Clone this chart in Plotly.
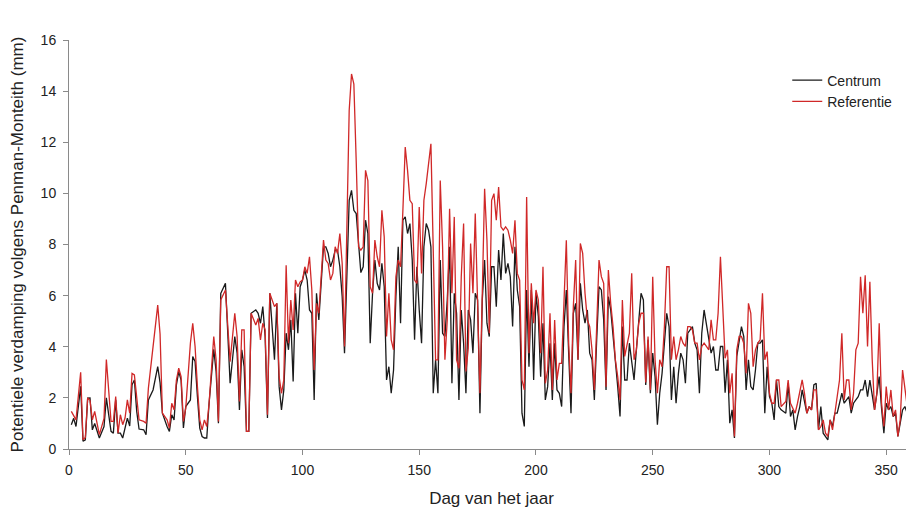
import plotly.graph_objects as go

# Day of year (days)
days = [1, 2, 3, 5, 6, 7, 8, 9, 10, 11, 13, 15, 16, 18, 19, 20, 21, 22, 23, 24, 25, 26, 27, 28, 29, 30,
        32, 33, 34, 36, 38, 39, 40, 42, 43, 44, 45, 46, 47, 48, 49, 50, 52, 53, 54, 55, 56, 57, 58, 59, 60,
        62, 63, 64, 65, 67, 68, 69, 71, 72, 73, 74, 75, 76, 77, 78, 80, 81, 82, 83, 84, 85, 86, 88, 89, 90,
        91, 92, 93, 94, 95, 96, 97, 98, 99, 100, 101, 102, 103, 104, 105, 106, 107, 108, 109, 110,
        111, 112, 113, 114, 115, 116, 117, 118, 119, 120, 121, 122, 123, 124, 125, 126, 127, 128, 129, 130,
        131, 132, 133, 134, 135, 136, 137, 138, 139, 140, 141, 142, 143, 144, 145, 146, 147, 148, 149, 150,
        151, 152, 153, 154, 155, 156, 157, 158, 159, 160, 161, 162, 163, 164, 165, 166, 167, 168, 169, 170,
        171, 172, 173, 174, 175, 176, 177, 178, 179, 180, 181, 182, 183, 184, 185, 186, 187, 188, 189, 190,
        191, 192, 193, 194, 195, 196, 197, 198, 199, 200, 201, 202, 203, 204, 205, 206, 207, 208, 209, 210,
        211, 212, 213, 214, 215, 216, 217, 218, 219, 220, 221, 222, 223, 224, 225, 226, 227, 228, 229, 230,
        231, 232, 233, 234, 235, 236, 237, 238, 239, 240, 241, 242, 243, 244, 245, 246, 247, 248, 249, 250,
        251, 252, 253, 254, 255, 256, 257, 258, 259, 260, 261, 262, 263, 264, 265, 266, 267, 268, 269, 270,
        271, 272, 273, 274, 275, 276, 277, 278, 279, 280, 281, 282, 283, 284, 285, 286, 287, 288, 289, 290,
        291, 292, 293, 294, 295, 296, 297, 298, 299, 300, 301, 302, 303, 304, 305, 307, 308, 309, 310,
        311, 312, 313, 314, 315, 316, 317, 318, 319, 320, 321, 322, 323, 324, 325, 326, 327, 328, 329, 330,
        331, 332, 333, 334, 335, 336, 337, 338, 339, 340, 341, 342, 343, 344, 345, 346, 347, 348, 349, 350,
        351, 352, 353, 354, 355, 356, 357, 358, 359, 360, 361, 362]

referentie = [1.47, 1.27, 1.14, 3.0, 0.36, 0.45, 2.0, 1.9, 1.14, 1.47, 0.56, 1.2, 3.5, 1.08, 1.08, 2.05, 0.62, 1.34, 0.95, 1.21, 1.92, 1.4, 2.96, 2.9, 2.12, 1.14,
              1.08, 1.01, 2.38, 4.01, 5.63, 4.5, 1.4, 1.14, 0.82, 1.79, 1.53, 2.70, 3.16, 2.83, 1.08, 1.6, 4.14, 4.92, 4.01, 2.44, 1.14, 0.75, 1.14, 0.88, 1.79,
              4.40, 3.49, 1.08, 5.83, 6.22, 4.66, 3.42, 5.31, 4.40, 1.86, 4.66, 4.66, 0.69, 0.69, 5.31, 4.85, 5.11, 4.27, 4.92, 4.66, 1.34, 6.09, 5.57, 5.70, 2.83,
              2.18, 2.70, 7.19, 4.14, 5.83, 4.66, 6.61, 6.35, 6.54, 6.61, 7.13, 6.87, 7.52, 6.22, 3.09, 5.70, 5.31, 6.61, 8.17, 7.39,
              7.26, 6.61, 6.87, 7.91, 7.65, 8.43, 7.26, 4.01, 8.4, 13.24, 14.67, 14.28, 11.29, 7.91, 7.78, 7.91, 10.9, 10.5, 6.35, 6.09,
              8.17, 7.52, 7.13, 9.34, 8.30, 4.40, 6.09, 4.27, 3.88, 6.74, 7.39, 7.13, 9.34, 11.81, 10.9, 9.73, 9.6, 6.61, 6.48, 9.47,
              6.87, 9.73, 10.38, 11.16, 11.94, 7.78, 3.49, 3.49, 10.5, 7.9, 3.49, 5.05, 9.40, 6.09, 9.08, 3.49, 3.16, 6.74, 8.82, 3.03,
              3.94, 8.04, 6.09, 9.21, 6.09, 2.18, 6.09, 10.18, 8.17, 4.53, 9.73, 9.99, 8.95, 10.25, 8.69, 8.56, 8.69, 8.56, 8.17, 7.65,
              8.95, 6.87, 6.61, 2.70, 2.31, 9.86, 3.75, 6.48, 4.92, 6.22, 5.83, 3.75, 7.13, 2.57, 3.09, 5.31, 2.31, 5.05, 2.70, 3.35,
              3.35, 5.57, 8.17, 4.14, 2.18, 5.57, 7.39, 3.49, 8.04, 7.65, 6.09, 5.05, 4.79, 3.88, 2.31, 4.79, 7.39, 6.74, 6.48, 2.44,
              7.0, 5.70, 4.79, 3.49, 2.83, 1.92, 5.83, 3.62, 4.01, 4.53, 6.87, 3.49, 3.88, 4.92, 5.31, 5.31, 2.6, 4.40, 2.31, 6.74,
              3.49, 2.18, 3.49, 3.22, 4.79, 7.13, 7.13, 3.49, 4.40, 3.49, 3.88, 4.40, 4.14, 4.01, 4.79, 4.79, 4.66, 4.14, 4.14, 3.49,
              4.01, 4.14, 4.01, 3.88, 5.05, 4.27, 4.27, 5.31, 7.52, 5.18, 3.55, 3.88, 2.18, 2.96, 0.49, 3.88, 4.40, 4.40, 4.14, 2.96,
              5.70, 5.31, 3.22, 3.88, 4.14, 4.27, 6.09, 3.49, 3.81, 2.18, 1.79, 1.79, 2.70, 2.70, 1.66, 1.86, 2.70, 1.79, 1.60,
              1.40, 1.79, 2.18, 2.70, 2.18, 1.40, 1.66, 1.53, 2.31, 2.31, 0.75, 0.88, 1.14, 0.62, 0.49, 1.14, 0.75, 1.40, 2.05, 2.70,
              4.53, 1.92, 2.70, 2.70, 1.53, 2.18, 3.88, 4.14, 6.74, 5.31, 6.80, 4.01, 6.54, 3.49, 1.53, 2.18, 4.92, 1.8, 0.88, 2.44,
              1.53, 2.31, 1.27, 1.53, 0.49, 1.14, 3.09, 2.44, 1.66, 1.53, 2.18, 3.09]

centrum = [0.95, 1.2, 0.88, 2.45, 0.30, 0.36, 1.99, 2.0, 0.75, 1.0, 0.43, 0.88, 2.0, 0.69, 0.62, 1.92, 0.62, 0.62, 0.43, 0.88, 1.21, 0.9, 2.51, 2.7, 1.47, 0.78,
           0.75, 0.56, 1.92, 2.31, 3.22, 2.6, 1.4, 0.88, 0.69, 1.34, 1.14, 2.51, 3.03, 2.70, 0.82, 1.66, 1.92, 3.62, 3.42, 2.05, 0.82, 0.49, 0.43, 0.43, 1.79,
           3.90, 3.03, 1.01, 6.09, 6.48, 4.40, 2.57, 4.40, 3.75, 1.53, 3.88, 3.22, 0.69, 0.69, 5.31, 5.44, 5.31, 4.92, 5.57, 4.40, 1.21, 6.09, 3.49, 5.70, 2.44,
           1.53, 2.31, 4.53, 3.88, 5.05, 2.64, 6.09, 4.53, 6.35, 6.61, 7.00, 6.61, 5.44, 5.31, 1.92, 6.09, 5.05, 6.74, 7.91, 7.91,
           7.65, 7.13, 7.39, 7.78, 7.78, 7.13, 5.96, 3.75, 6.7, 9.73, 10.12, 9.34, 9.21, 7.91, 6.9, 7.13, 8.95, 8.43, 4.14, 6.09,
           7.39, 6.48, 6.22, 7.26, 6.35, 2.70, 3.22, 2.18, 3.09, 5.96, 7.91, 4.92, 8.95, 9.08, 8.43, 8.82, 7.4, 4.27, 7.13, 5.44,
           4.14, 7.91, 8.82, 8.56, 7.91, 2.18, 3.49, 2.18, 7.39, 4.53, 4.40, 5.83, 7.91, 2.57, 6.09, 5.31, 1.92, 5.44, 4.14, 2.18,
           5.44, 5.05, 3.75, 6.09, 5.83, 1.40, 5.83, 7.39, 4.92, 4.40, 7.13, 7.13, 5.57, 7.78, 6.61, 8.43, 6.87, 7.26, 6.74, 4.79,
           7.91, 6.22, 5.57, 1.40, 0.88, 6.22, 3.22, 6.22, 2.70, 6.09, 5.2, 2.83, 4.92, 1.92, 2.44, 4.14, 1.92, 4.14, 2.31, 2.18,
           1.66, 4.79, 6.22, 3.75, 1.40, 5.31, 5.70, 3.49, 6.48, 5.44, 4.92, 5.44, 3.75, 3.49, 1.92, 4.27, 6.35, 6.22, 5.05, 2.31,
           5.96, 5.44, 4.53, 3.49, 2.44, 1.27, 4.79, 2.70, 2.70, 4.14, 3.49, 2.70, 3.88, 5.18, 6.09, 5.83, 2.5, 4.27, 2.18, 3.75,
           2.83, 0.95, 2.18, 2.96, 4.14, 5.31, 4.79, 1.92, 3.22, 1.79, 2.96, 3.75, 3.49, 2.57, 4.53, 4.66, 4.79, 4.14, 3.88, 2.18,
           4.53, 5.44, 4.92, 4.27, 3.75, 4.01, 3.09, 3.09, 4.01, 4.01, 2.2, 3.49, 1.01, 1.53, 0.43, 3.62, 4.27, 4.79, 4.40, 2.31,
           3.49, 2.44, 2.31, 3.09, 4.14, 4.14, 4.27, 1.40, 3.22, 2.05, 1.79, 1.14, 2.70, 1.66, 1.53, 1.40, 2.57, 1.27, 1.53,
           0.75, 1.27, 1.66, 2.31, 1.92, 1.40, 1.66, 1.53, 2.51, 2.57, 0.75, 1.66, 0.62, 0.49, 0.36, 1.14, 0.88, 1.40, 1.40, 1.79,
           2.18, 1.79, 1.92, 2.05, 1.40, 1.79, 1.92, 2.05, 2.31, 2.31, 2.70, 2.05, 2.70, 2.05, 1.53, 2.18, 2.83, 1.6, 0.62, 1.79,
           1.53, 1.66, 1.27, 1.40, 0.49, 1.01, 1.53, 1.66, 1.40, 1.40, 1.66, 1.40]

x_ticks = [0, 50, 100, 150, 200, 250, 300, 350]
y_ticks = [0, 2, 4, 6, 8, 10, 12, 14, 16]

FONT = "Liberation Sans, Arial, sans-serif"

fig = go.Figure()
fig.add_trace(go.Scatter(x=days, y=centrum, mode="lines", name="Centrum",
                         line=dict(color="#1a1a1a", width=1.3)))
fig.add_trace(go.Scatter(x=days, y=referentie, mode="lines", name="Referentie",
                         line=dict(color="#d02828", width=1.3)))

axis_common = dict(showgrid=False, zeroline=False, showline=True, linecolor="#8a8a8a", linewidth=1,
                   ticks="outside", ticklen=5, tickcolor="#8a8a8a", automargin=False,
                   tickfont=dict(family=FONT, size=14, color="#222222"))

fig.update_layout(
    width=914, height=515,
    margin=dict(l=61, r=8, t=32, b=74),
    paper_bgcolor="white", plot_bgcolor="white",
    font=dict(family=FONT, color="#222222"),
    showlegend=True,
    legend=dict(x=0.85, y=0.94, xanchor="left", yanchor="top",
                bgcolor="rgba(0,0,0,0)", font=dict(family=FONT, size=14, color="#222222"),
                tracegroupgap=0, itemwidth=30),
    xaxis=dict(range=[0, 361.9], tickvals=x_ticks, ticklabelstandoff=3,
               title=dict(text="Dag van het jaar", font=dict(family=FONT, size=17, color="#222222"), standoff=15),
               **axis_common),
    yaxis=dict(range=[0, 16], tickvals=y_ticks, ticklabelstandoff=4,
               title=dict(text="Potentiele verdamping volgens Penman-Monteith (mm)",
                          font=dict(family=FONT, size=17, color="#222222"), standoff=12),
               **axis_common),
)

fig.write_html("out.html")
